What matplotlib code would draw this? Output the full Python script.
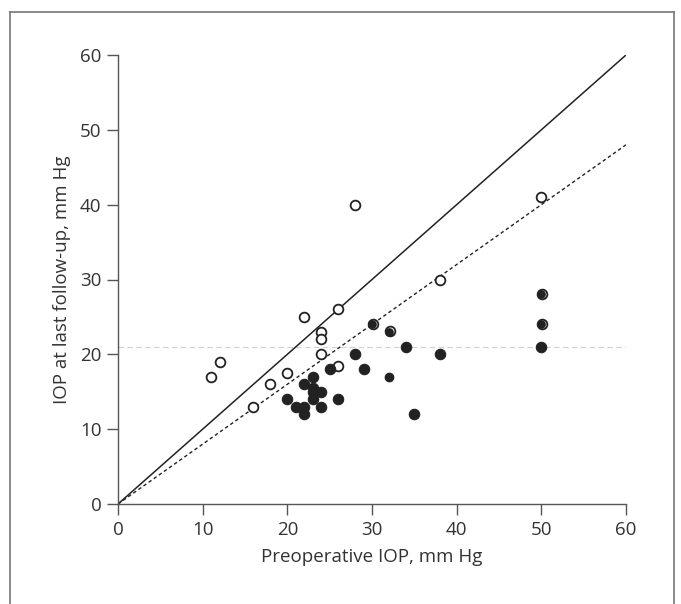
import numpy as np
import matplotlib
matplotlib.use("Agg")
import matplotlib.pyplot as plt
from matplotlib.lines import Line2D

plt.rcParams["font.family"] = ["Open Sans", "DejaVu Sans"]

# open circles
open_x = [11, 12, 16, 18, 20, 22, 24, 24, 24, 26, 26, 28, 38, 50]
open_y = [17, 19, 13, 16, 17.5, 25, 23, 22, 20, 26, 18.5, 40, 30, 41]

# filled circles
filled_x = [20, 21, 22, 22, 22, 23, 23, 23, 23, 24, 24, 25, 26, 28, 29, 34, 35, 38, 50]
filled_y = [14, 13, 16, 13, 12, 17, 15.5, 15, 14, 15, 13, 18, 14, 20, 18, 21, 12, 20, 21]

# small filled point
small_x = [32]
small_y = [17]

# overlapping open + filled points
overlap_open_x = [30.08, 32.08, 50.08, 50.08]
overlap_open_y = [24.1, 23.1, 28.1, 24.1]
overlap_filled_x = [30, 32, 50, 50]
overlap_filled_y = [24.0, 23.0, 28.0, 24.0]

ticks = [0, 10, 20, 30, 40, 50, 60]
target_iop = 21
reduction = 0.8

fig = plt.figure(figsize=(6.81, 6.04), dpi=100)
ax = fig.add_axes([118 / 681, 1 - 504 / 604, 508 / 681, 449 / 604])

line_x = np.array([0, 60])
ax.plot(line_x, line_x, color="#222222", lw=1.1, zorder=2)
ax.plot(line_x, reduction * line_x, color="#222222", lw=1.0, ls=(0, (2.5, 2)), zorder=2)
ax.plot(line_x, [target_iop, target_iop], color="#d0d0d0", lw=0.8, ls=(0, (5, 3)), zorder=1)

ax.plot(open_x, open_y, "o", ms=7, mfc="white", mec="#222222", mew=1.3, ls="none", zorder=3, clip_on=False)
ax.plot(filled_x, filled_y, "o", ms=7.5, mfc="#222222", mec="#222222", mew=0.8, ls="none", zorder=3)
ax.plot(small_x, small_y, "o", ms=6, mfc="#222222", mec="#222222", ls="none", zorder=3)
ax.plot(overlap_open_x, overlap_open_y, "o", ms=7, mfc="white", mec="#222222", mew=1.3, ls="none", zorder=3)
ax.plot(overlap_filled_x, overlap_filled_y, "o", ms=6.3, mfc="#222222", mec="#222222", mew=0, ls="none", zorder=4)

ax.set_xlim(0, 60)
ax.set_ylim(0, 60)
ax.set_xticks(ticks)
ax.set_yticks(ticks)

for s in ["top", "right"]:
    ax.spines[s].set_visible(False)
for s in ["left", "bottom"]:
    ax.spines[s].set_color("#555555")
    ax.spines[s].set_linewidth(1.0)

ax.tick_params(direction="out", length=8, width=1.0, color="#555555",
               labelsize=13.5, labelcolor="#333333", pad=4)

ax.set_xlabel("Preoperative IOP, mm Hg", fontsize=13.5, color="#333333", labelpad=7)
ax.set_ylabel("IOP at last follow-up, mm Hg", fontsize=13.5, color="#333333", labelpad=6)

# figure frame
frame_kw = dict(color="#777777", lw=1.2, transform=fig.transFigure)
l, r, t = 10 / 681, 674 / 681, 1 - 12 / 604
fig.add_artist(Line2D([l, l], [0, t], **frame_kw))
fig.add_artist(Line2D([r, r], [0, t], **frame_kw))
fig.add_artist(Line2D([l, r], [t, t], **frame_kw))

plt.savefig("out.png", dpi=100)
